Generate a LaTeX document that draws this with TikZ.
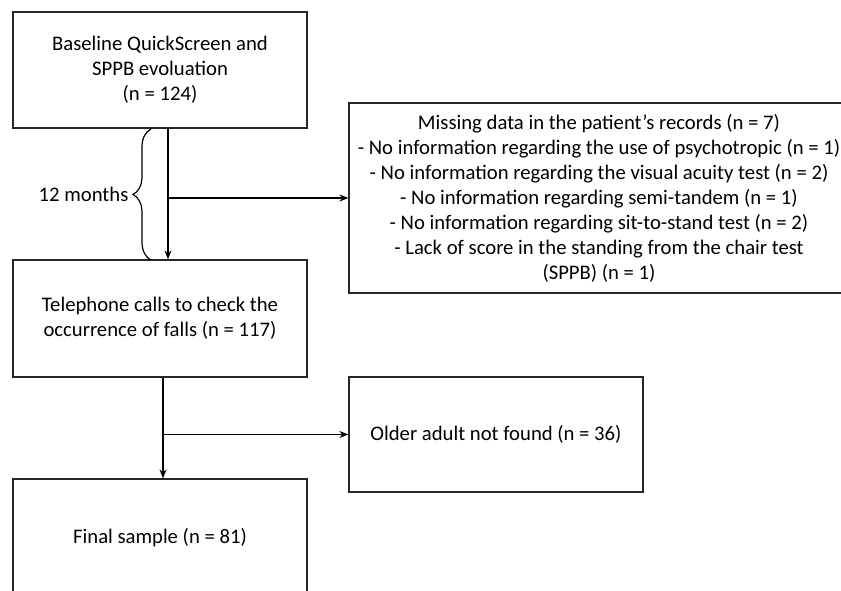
\documentclass[tikz,border=0pt]{standalone}
\usepackage{fontspec}
\setmainfont{Carlito}
\usetikzlibrary{arrows.meta,decorations.pathreplacing}
\tikzset{
  box/.style={draw=black!85, line width=1.2pt, align=center, inner sep=0pt,
    font=\fontsize{20.7}{25}\selectfont},
  arr/.style={draw=black, line width=1.2pt, -{Stealth[length=9pt,width=7pt]}},
  ln/.style={draw=black, line width=1.2pt},
  lbl/.style={font=\fontsize{20.7}{25}\selectfont, inner sep=0pt}
}
\begin{document}
\begin{tikzpicture}[x=1pt,y=-1pt]
\useasboundingbox (0,0) rectangle (841,590);
\clip (0,0) rectangle (841,590);
\node[box, minimum width=294pt, minimum height=116pt] (b1) at (160,70)
  {Baseline QuickScreen and\\SPPB evoluation\\(n = 124)};
\node[box, minimum width=294pt, minimum height=117pt] (b2) at (160,318.5)
  {Telephone calls to check the\\occurrence of falls (n = 117)};
\node[box, minimum width=500pt, minimum height=190pt] (b3) at (599,198)
  {Missing data in the patient’s records (n = 7)\\
   - No information regarding the use of psychotropic (n = 1)\\
   - No information regarding the visual acuity test (n = 2)\\
   - No information regarding semi-tandem (n = 1)\\
   - No information regarding sit-to-stand test (n = 2)\\
   - Lack of score in the standing from the chair test\\
   (SPPB) (n = 1)};
\node[box, minimum width=294pt, minimum height=115pt] (b4) at (496,434.5)
  {Older adult not found (n = 36)};
\node[box, minimum width=294pt, minimum height=117pt] (b5) at (160,537.5)
  {Final sample (n = 81)};
% top connector
\coordinate (t1) at ([xshift=8pt]b1.south);
\coordinate (j1) at (t1 |- b3.center);
\draw[arr] (t1) -- (t1 |- b2.north);
\draw[arr] (j1) -- (j1 -| b3.west);
% brace
\coordinate (bb) at (151,260);
\coordinate (bt) at (151,129);
\draw[ln, decorate, decoration={brace, amplitude=18pt}] (bb) -- (bt)
  node[midway, xshift=-22pt, anchor=east, lbl] (m) {12 months};
% bottom connector
\coordinate (t2) at ([xshift=3pt]b2.south);
\coordinate (j2) at (t2 |- b4.center);
\draw[arr] (t2) -- (t2 |- b5.north);
\draw[arr] (j2) -- (j2 -| b4.west);
\end{tikzpicture}
\end{document}
